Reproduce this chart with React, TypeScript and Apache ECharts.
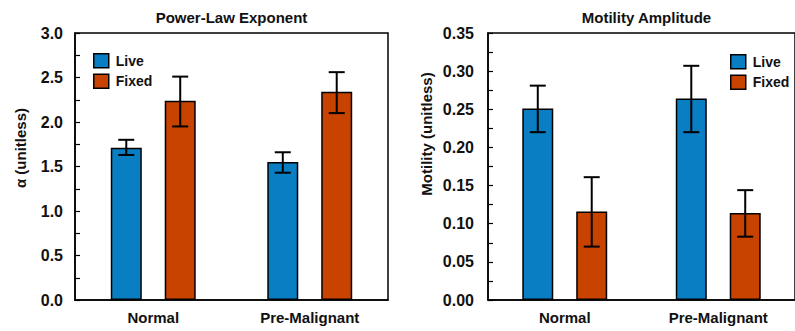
import React, { useEffect, useRef } from "react";
import * as echarts from "echarts";

const categories = ["Normal", "Pre-Malignant"];

// Power-Law Exponent (alpha)
const alphaLive = [1.71, 1.55];
const alphaLiveLow = [1.63, 1.43];
const alphaLiveHigh = [1.8, 1.66];
const alphaFixed = [2.24, 2.34];
const alphaFixedLow = [1.95, 2.1];
const alphaFixedHigh = [2.51, 2.56];

// Motility Amplitude
const motLive = [0.251, 0.264];
const motLiveLow = [0.22, 0.22];
const motLiveHigh = [0.281, 0.307];
const motFixed = [0.116, 0.114];
const motFixedLow = [0.07, 0.083];
const motFixedHigh = [0.161, 0.144];

// ticks every `tick`, labels every `label`
const alphaTicks = { min: 0, max: 3, tick: 0.25, label: 0.5, decimals: 1 };
const motTicks = { min: 0, max: 0.35, tick: 0.025, label: 0.05, decimals: 2 };

const BLUE = "#0A7EC2";
const ORANGE = "#C84200";
const FONT = "'Liberation Sans', Arial, sans-serif";
const TXT = "#111";

const BAR_W = 31;
const GAP_PCT = 0.74;
const OFFSET = (BAR_W + BAR_W * GAP_PCT) / 2;

function errData(vals: number[], lows: number[], highs: number[]) {
  return vals.map((v, i) => [i, v, lows[i], highs[i]]);
}

function errSeries(axis: number, data: number[][], offset: number) {
  return {
    type: "custom",
    xAxisIndex: axis,
    yAxisIndex: axis,
    z: 10,
    silent: true,
    encode: { x: 0, y: [2, 3] },
    data,
    renderItem: (params: any, api: any) => {
      const cat = api.value(0);
      const x = api.coord([cat, api.value(1)])[0] + offset;
      const yl = api.coord([cat, api.value(2)])[1];
      const yh = api.coord([cat, api.value(3)])[1];
      const cap = 8;
      const style = { stroke: "#000", lineWidth: 2 };
      return {
        type: "group",
        children: [
          { type: "line", shape: { x1: x, y1: yl, x2: x, y2: yh }, style },
          { type: "line", shape: { x1: x - cap, y1: yl, x2: x + cap, y2: yl }, style },
          { type: "line", shape: { x1: x - cap, y1: yh, x2: x + cap, y2: yh }, style },
        ],
      };
    },
  };
}

function barSeries(axis: number, name: string, data: number[], color: string) {
  return {
    type: "bar",
    name,
    xAxisIndex: axis,
    yAxisIndex: axis,
    data,
    barWidth: BAR_W,
    barGap: `${GAP_PCT * 100}%`,
    itemStyle: { color, borderColor: "#000", borderWidth: 1.5 },
  };
}

function yAxis(grid: number, t: any, margin: number) {
  return {
    type: "value",
    gridIndex: grid,
    min: t.min,
    max: t.max,
    interval: t.tick,
    axisLine: { show: true, lineStyle: { color: "#000", width: 1.5 } },
    axisTick: { show: true, inside: true, length: 5, lineStyle: { color: "#000", width: 1.2 } },
    splitLine: { show: false },
    axisLabel: {
      margin,
      fontSize: 16,
      fontWeight: "bold",
      fontFamily: FONT,
      color: TXT,
      formatter: (v: number) => {
        const r = v / t.label;
        return Math.abs(r - Math.round(r)) < 1e-6 ? v.toFixed(t.decimals) : "";
      },
    },
  };
}

function xAxis(grid: number) {
  return {
    type: "category",
    gridIndex: grid,
    data: categories,
    axisLine: { show: true, lineStyle: { color: "#000", width: 1.5 } },
    axisTick: { show: false },
    axisLabel: {
      margin: 10,
      fontSize: 15,
      fontWeight: "bold",
      fontFamily: FONT,
      color: TXT,
    },
  };
}

function legend(left: number, top: number) {
  return {
    left,
    top,
    orient: "vertical",
    padding: 0,
    itemWidth: 15,
    itemHeight: 14,
    itemGap: 5,
    icon: "rect",
    data: ["Live", "Fixed"],
    itemStyle: { borderColor: "#000", borderWidth: 1.5 },
    textStyle: { fontSize: 14, fontWeight: "bold", fontFamily: FONT, color: TXT, padding: [0, 0, 0, 2] },
  };
}

export default function App() {
  const ref = useRef<HTMLDivElement>(null);
  useEffect(() => {
    if (!ref.current) return;
    const chart = echarts.init(ref.current, null, { renderer: "svg" });
    const grids = [
      { left: 75, top: 33, width: 313, height: 267 },
      { left: 488, top: 33, width: 317, height: 267 },
    ];
    const titleStyle = { fontSize: 15, fontWeight: "bold", fontFamily: FONT, color: TXT };
    chart.setOption({
      animation: false,
      backgroundColor: "#fff",
      title: [
        {
          text: "Power-Law Exponent",
          left: grids[0].left + grids[0].width / 2,
          top: 10,
          textAlign: "center",
          padding: 0,
          textStyle: titleStyle,
        },
        {
          text: "Motility Amplitude",
          left: grids[1].left + grids[1].width / 2,
          top: 10,
          textAlign: "center",
          padding: 0,
          textStyle: titleStyle,
        },
      ],
      grid: grids.map((g) => ({
        ...g,
        show: true,
        borderColor: "#000",
        borderWidth: 1.5,
        backgroundColor: "transparent",
      })),
      legend: [legend(93, 53), legend(730, 54)],
      xAxis: [xAxis(0), xAxis(1)],
      yAxis: [yAxis(0, alphaTicks, 12), yAxis(1, motTicks, 14)],
      graphic: [
        {
          type: "text",
          x: 20,
          y: 148,
          rotation: Math.PI / 2,
          style: {
            text: "α (unitless)",
            align: "center",
            verticalAlign: "middle",
            font: `bold 15px ${FONT}`,
            fill: TXT,
          },
        },
        {
          type: "text",
          x: 426,
          y: 134,
          rotation: Math.PI / 2,
          style: {
            text: "Motility (unitless)",
            align: "center",
            verticalAlign: "middle",
            font: `bold 15px ${FONT}`,
            fill: TXT,
          },
        },
      ],
      series: [
        barSeries(0, "Live", alphaLive, BLUE),
        barSeries(0, "Fixed", alphaFixed, ORANGE),
        barSeries(1, "Live", motLive, BLUE),
        barSeries(1, "Fixed", motFixed, ORANGE),
        errSeries(0, errData(alphaLive, alphaLiveLow, alphaLiveHigh), -OFFSET),
        errSeries(0, errData(alphaFixed, alphaFixedLow, alphaFixedHigh), OFFSET),
        errSeries(1, errData(motLive, motLiveLow, motLiveHigh), -OFFSET),
        errSeries(1, errData(motFixed, motFixedLow, motFixedHigh), OFFSET),
      ],
    });
    return () => chart.dispose();
  }, []);
  return (
    <div
      ref={ref}
      style={{ position: "fixed", left: 0, top: 0, width: 795, height: 331 }}
    />
  );
}
